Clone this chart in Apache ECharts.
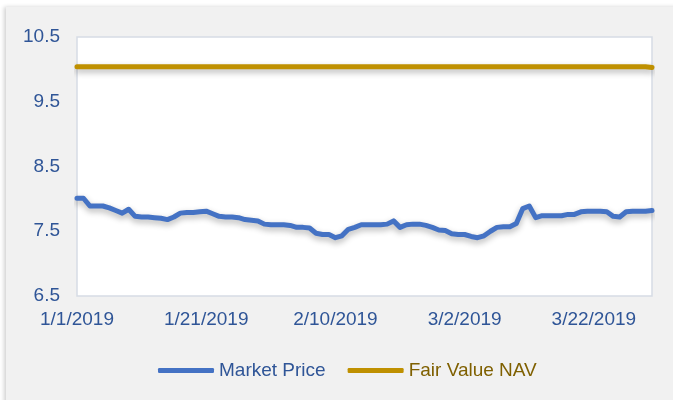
<!DOCTYPE html>
<html>
<head>
<meta charset="utf-8">
<script src="https://cdn.jsdelivr.net/npm/echarts@6/dist/echarts.min.js"></script>
<style>
    html, body { margin: 0; padding: 0; background: #fff; }
    .panel {
        position: absolute; left: 6px; top: 7px; width: 680px; height: 400px;
        background: #f1f1f1; box-shadow: -2px 0 4px rgba(0,0,0,0.18);
    }
    #main { position: absolute; left: 0; top: 0; width: 673px; height: 400px; }
</style>
</head>
<body>
<div class="panel"></div>
<div id="main"></div>
<script>
// 日期: 2019-01-01 ~ 2019-03-31 (每日)
var dates = [];
(function () {
    var d = new Date(2019, 0, 1);
    for (var i = 0; i < 90; i++) {
        dates.push((d.getMonth() + 1) + '/' + d.getDate() + '/' + d.getFullYear());
        d.setDate(d.getDate() + 1);
    }
})();

// 市场价格
var marketPrice = [
    8.01, 8.01, 7.89, 7.89, 7.89, 7.86, 7.82, 7.78, 7.84, 7.73,
    7.72, 7.72, 7.71, 7.70, 7.68, 7.72, 7.78, 7.79, 7.79, 7.80,
    7.81, 7.77, 7.73, 7.72, 7.72, 7.71, 7.68, 7.67, 7.66, 7.61,
    7.60, 7.60, 7.60, 7.59, 7.56, 7.56, 7.55, 7.47, 7.45, 7.45,
    7.40, 7.43, 7.53, 7.56, 7.60, 7.60, 7.60, 7.60, 7.61, 7.66,
    7.56, 7.60, 7.61, 7.61, 7.59, 7.56, 7.52, 7.51, 7.46, 7.45,
    7.45, 7.42, 7.40, 7.43, 7.50, 7.56, 7.57, 7.57, 7.62, 7.85,
    7.89, 7.71, 7.74, 7.74, 7.74, 7.74, 7.76, 7.76, 7.80, 7.81,
    7.81, 7.81, 7.80, 7.73, 7.72, 7.80, 7.81, 7.81, 7.81, 7.82
];

// 公允价值 NAV
var fairValueNav = [];
for (var k = 0; k < 89; k++) fairValueNav.push(10.04);
fairValueNav.push(10.03);

var yMin = 6.5, yMax = 10.5, yStep = 0.5;
var seriesNames = ['Market Price', 'Fair Value NAV'];

var font = '"Liberation Sans", Arial, sans-serif';
var textBlue = '#2f5597';

var myChart = echarts.init(document.getElementById('main'));
var option = {
    backgroundColor: 'transparent',
    animation: false,
    grid: {
        left: 77, right: 21, top: 37, bottom: 104,
        show: true,
        backgroundColor: '#fff',
        borderColor: '#d6dce5',
        borderWidth: 1.5
    },
    legend: {
        left: 153,
        top: 356,
        itemWidth: 56,
        itemHeight: 5,
        itemGap: 22,
        icon: 'roundRect',
        data: [
            { name: seriesNames[0], textStyle: { color: textBlue } },
            { name: seriesNames[1], textStyle: { color: '#7f6000' } }
        ],
        textStyle: { fontSize: 19, fontFamily: font }
    },
    xAxis: {
        type: 'category',
        boundaryGap: false,
        data: dates,
        axisLine: { show: false },
        axisTick: { show: false },
        splitLine: { show: false },
        axisLabel: {
            interval: 19,
            margin: 14,
            color: textBlue,
            fontSize: 19,
            fontFamily: font
        }
    },
    yAxis: {
        type: 'value',
        min: yMin,
        max: yMax,
        interval: yStep,
        axisLine: { show: false },
        axisTick: { show: false },
        splitLine: { show: false },
        axisLabel: {
            margin: 17,
            color: textBlue,
            fontSize: 19,
            fontFamily: font,
            formatter: function (v) {
                var r = Math.abs(((v - yMin) % 1));
                if (r > 0.01 && r < 0.99) return '';
                return v.toFixed(1);
            }
        }
    },
    series: [
        {
            name: seriesNames[0],
            type: 'line',
            data: marketPrice,
            showSymbol: false,
            symbol: 'none',
            itemStyle: { color: '#4472c4' },
            lineStyle: {
                color: '#4472c4', width: 5, cap: 'round', join: 'round',
                shadowColor: 'rgba(0,0,0,0.3)', shadowBlur: 6, shadowOffsetY: 3
            },
            z: 3
        },
        {
            name: seriesNames[1],
            type: 'line',
            data: fairValueNav,
            showSymbol: false,
            symbol: 'none',
            itemStyle: { color: '#bf9000' },
            lineStyle: {
                color: '#bf9000', width: 5, cap: 'round', join: 'round',
                shadowColor: 'rgba(0,0,0,0.3)', shadowBlur: 6, shadowOffsetY: 3
            },
            z: 2
        }
    ]
};
myChart.setOption(option);
</script>
</body>
</html>
